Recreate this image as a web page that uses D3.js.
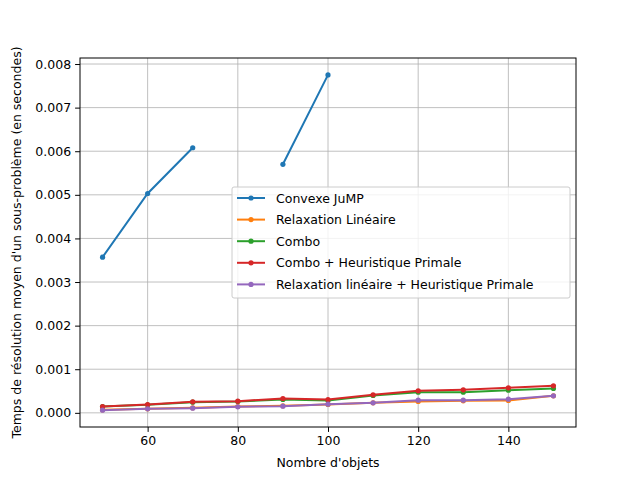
<!DOCTYPE html>
<html><head><meta charset="utf-8">
<script src="https://cdn.jsdelivr.net/npm/d3@7"></script>
<style>body{margin:0}text{font-family:"DejaVu Sans",sans-serif}</style>
</head><body><div id="chart"></div>
<script>
const xs = [50,60,70,80,90,100,110,120,130,140,150]
const convexe = [0.00357,0.00503,0.00608,null,0.00570,0.00775,null,null,null,null,null]
const relax = [0.000069,0.000092,0.000115,0.000145,0.00016,0.000191,0.000229,0.00026,0.000275,0.000283,0.00039]
const combo = [0.000145,0.000183,0.000245,0.00026,0.000306,0.000283,0.000398,0.000474,0.000474,0.00052,0.000558]
const comboH = [0.000145,0.00019,0.000252,0.000268,0.000329,0.000306,0.000413,0.000505,0.000528,0.000573,0.00062]
const relaxH = [0.000061,0.000092,0.000107,0.000138,0.000153,0.000199,0.000229,0.00029,0.00029,0.000313,0.00039]
const names = ["Convexe JuMP","Relaxation Linéaire","Combo","Combo + Heuristique Primale","Relaxation linéaire + Heuristique Primale"]
const colors = ["#1f77b4","#ff7f0e","#2ca02c","#d62728","#9467bd"]
const series = [convexe,relax,combo,comboH,relaxH]
const xTicks = [60,80,100,120,140]
const yTicks = [0,0.001,0.002,0.003,0.004,0.005,0.006,0.007,0.008]

const fs = 12.5
const m = {left:80, right:576, top:58, bottom:427}
const svg = d3.select("#chart").append("svg").attr("width",640).attr("height",480)
const x = d3.scaleLinear().domain([45,155]).range([m.left,m.right])
const y = d3.scaleLinear().domain([-0.000325,0.008138]).range([m.bottom,m.top])

// grid
svg.append("g").selectAll("line").data(xTicks).join("line")
	.attr("x1",d=>x(d)).attr("x2",d=>x(d)).attr("y1",m.top).attr("y2",m.bottom)
	.attr("stroke","#b0b0b0").attr("stroke-width",0.8)
svg.append("g").selectAll("line").data(yTicks).join("line")
	.attr("y1",d=>y(d)).attr("y2",d=>y(d)).attr("x1",m.left).attr("x2",m.right)
	.attr("stroke","#b0b0b0").attr("stroke-width",0.8)

const xAxis = svg.append("g").attr("transform",`translate(0,${m.bottom})`)
	.call(d3.axisBottom(x).tickValues(xTicks).tickSize(4.9).tickPadding(4))
const yAxis = svg.append("g").attr("transform",`translate(${m.left},0)`)
	.call(d3.axisLeft(y).tickValues(yTicks).tickSize(4.9).tickPadding(4).tickFormat(d3.format(".3f")))
;[xAxis,yAxis].forEach(a=>{a.select(".domain").remove();a.selectAll("text").attr("font-size",fs).attr("fill","#000").style("font-family","DejaVu Sans");a.selectAll("line").attr("stroke","#000")})

const line = d3.line().defined(d=>d[1]!=null).x(d=>x(d[0])).y(d=>y(d[1]))
series.forEach((s,i)=>{
	const pts = xs.map((v,j)=>[v,s[j]])
	svg.append("path").attr("d",line(pts)).attr("fill","none").attr("stroke",colors[i]).attr("stroke-width",2)
	svg.append("g").selectAll("circle").data(pts.filter(p=>p[1]!=null)).join("circle")
		.attr("cx",p=>x(p[0])).attr("cy",p=>y(p[1])).attr("r",2.6).attr("fill",colors[i])
})

svg.append("rect").attr("x",m.left).attr("y",m.top).attr("width",m.right-m.left).attr("height",m.bottom-m.top)
	.attr("fill","none").attr("stroke","#000").attr("stroke-width",1)

svg.append("text").attr("x",(m.left+m.right)/2).attr("y",467).attr("text-anchor","middle").attr("font-size",fs).text("Nombre d'objets")
svg.append("text").attr("transform",`translate(21,${(m.top+m.bottom)/2}) rotate(-90)`).attr("text-anchor","middle").attr("font-size",fs)
	.text("Temps de résolution moyen d'un sous-problème (en secondes)")

// legend
const lg = svg.append("g").attr("transform","translate(232,187)")
lg.append("rect").attr("width",338).attr("height",111).attr("rx",2).attr("fill","#fff").attr("fill-opacity",0.8).attr("stroke","#ccc")
names.forEach((n,i)=>{
	const yy = 11+i*21.6
	lg.append("line").attr("x1",5).attr("x2",33).attr("y1",yy).attr("y2",yy).attr("stroke",colors[i]).attr("stroke-width",2)
	lg.append("circle").attr("cx",19).attr("cy",yy).attr("r",2.6).attr("fill",colors[i])
	lg.append("text").attr("x",44).attr("y",yy+4.5).attr("font-size",fs).text(n)
})
</script></body></html>
